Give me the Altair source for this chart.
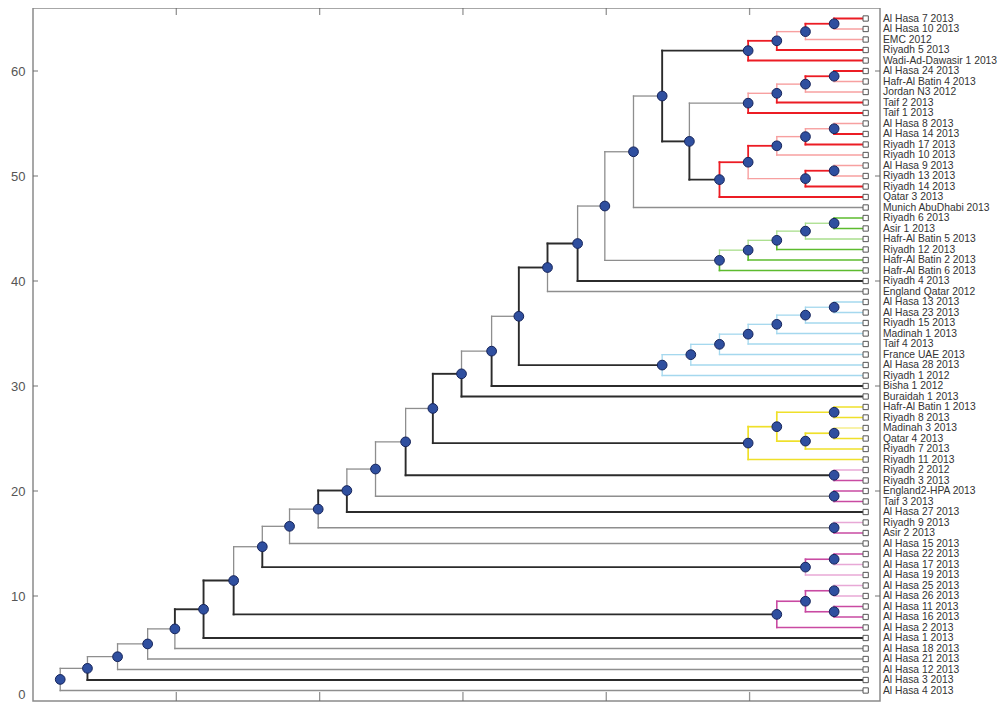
import altair as alt
import pandas as pd

# ---------------- data ----------------
leaf_names = [
    "Al Hasa 7 2013", "Al Hasa 10 2013", "EMC 2012", "Riyadh 5 2013",
    "Wadi-Ad-Dawasir 1 2013", "Al Hasa 24 2013", "Hafr-Al Batin 4 2013",
    "Jordan N3 2012", "Taif 2 2013", "Taif 1 2013", "Al Hasa 8 2013",
    "Al Hasa 14 2013", "Riyadh 17 2013", "Riyadh 10 2013", "Al Hasa 9 2013",
    "Riyadh 13 2013", "Riyadh 14 2013", "Qatar 3 2013", "Munich AbuDhabi 2013",
    "Riyadh 6 2013", "Asir 1 2013", "Hafr-Al Batin 5 2013", "Riyadh 12 2013",
    "Hafr-Al Batin 2 2013", "Hafr-Al Batin 6 2013", "Riyadh 4 2013",
    "England Qatar 2012", "Al Hasa 13 2013", "Al Hasa 23 2013", "Riyadh 15 2013",
    "Madinah 1 2013", "Taif 4 2013", "France UAE 2013", "Al Hasa 28 2013",
    "Riyadh 1 2012", "Bisha 1 2012", "Buraidah 1 2013", "Hafr-Al Batin 1 2013",
    "Riyadh 8 2013", "Madinah 3 2013", "Qatar 4 2013", "Riyadh 7 2013",
    "Riyadh 11 2013", "Riyadh 2 2012", "Riyadh 3 2013", "England2-HPA 2013",
    "Taif 3 2013", "Al Hasa 27 2013", "Riyadh 9 2013", "Asir 2 2013",
    "Al Hasa 15 2013", "Al Hasa 22 2013", "Al Hasa 17 2013", "Al Hasa 19 2013",
    "Al Hasa 25 2013", "Al Hasa 26 2013", "Al Hasa 11 2013", "Al Hasa 16 2013",
    "Al Hasa 2 2013", "Al Hasa 1 2013", "Al Hasa 18 2013", "Al Hasa 21 2013",
    "Al Hasa 12 2013", "Al Hasa 3 2013", "Al Hasa 4 2013",
]
leaf_x = 5.81

# internal nodes: name, x (distance), children, style of each child branch
node_names = [
    "N1", "N2", "N3", "N4", "N5", "N6", "N7", "N8", "N9", "N10", "N11", "N12",
    "N13", "N14", "N15", "N16", "N17", "N18", "N19", "N20", "N21", "N22", "N23",
    "M1", "M2", "M3", "M4", "P1", "P2", "Q", "R", "S",
    "Y1", "Y2", "Y3", "Y4", "Y5",
    "C1", "C2", "C3", "C4", "C5", "C6", "C7",
    "G1", "G2", "G3", "G4", "G5",
    "A1", "A2", "A3", "A4", "B1", "B2", "B3", "B4",
    "D1", "D2", "E2", "E3", "E4", "F1", "F2",
]
node_x = [
    0.19, 0.38, 0.59, 0.80, 0.99, 1.19, 1.40, 1.60, 1.79, 1.99, 2.19, 2.39,
    2.60, 2.79, 2.99, 3.20, 3.39, 3.59, 3.80, 3.99, 4.19, 4.39, 4.58,
    5.19, 5.39, 5.59, 5.59, 5.39, 5.59, 5.59, 5.59, 5.59,
    4.99, 5.19, 5.59, 5.39, 5.59,
    4.39, 4.59, 4.79, 4.99, 5.19, 5.39, 5.59,
    4.79, 4.99, 5.19, 5.39, 5.59,
    4.99, 5.19, 5.39, 5.59, 4.99, 5.19, 5.39, 5.59,
    4.79, 4.99, 5.19, 5.39, 5.59, 5.39, 5.59,
]
node_children = [
    ("Al Hasa 4 2013", "N2"), ("Al Hasa 3 2013", "N3"), ("Al Hasa 12 2013", "N4"),
    ("Al Hasa 21 2013", "N5"), ("Al Hasa 18 2013", "N6"), ("Al Hasa 1 2013", "N7"),
    ("M1", "N8"), ("P1", "N9"), ("Al Hasa 15 2013", "N10"), ("Q", "N11"),
    ("Al Hasa 27 2013", "N12"), ("R", "N13"), ("S", "N14"), ("Y1", "N15"),
    ("Buraidah 1 2013", "N16"), ("Bisha 1 2012", "N17"), ("C1", "N18"),
    ("England Qatar 2012", "N19"), ("Riyadh 4 2013", "N20"), ("G1", "N21"),
    ("Munich AbuDhabi 2013", "N22"), ("A1", "N23"), ("B1", "D1"),
    ("Al Hasa 2 2013", "M2"), ("M3", "M4"), ("Al Hasa 25 2013", "Al Hasa 26 2013"),
    ("Al Hasa 11 2013", "Al Hasa 16 2013"), ("Al Hasa 19 2013", "P2"),
    ("Al Hasa 17 2013", "Al Hasa 22 2013"), ("Asir 2 2013", "Riyadh 9 2013"),
    ("Taif 3 2013", "England2-HPA 2013"), ("Riyadh 3 2013", "Riyadh 2 2012"),
    ("Riyadh 11 2013", "Y2"), ("Y4", "Y3"), ("Riyadh 8 2013", "Hafr-Al Batin 1 2013"),
    ("Riyadh 7 2013", "Y5"), ("Qatar 4 2013", "Madinah 3 2013"),
    ("Riyadh 1 2012", "C2"), ("Al Hasa 28 2013", "C3"), ("France UAE 2013", "C4"),
    ("Taif 4 2013", "C5"), ("Madinah 1 2013", "C6"), ("Riyadh 15 2013", "C7"),
    ("Al Hasa 23 2013", "Al Hasa 13 2013"),
    ("Hafr-Al Batin 6 2013", "G2"), ("Hafr-Al Batin 2 2013", "G3"),
    ("Riyadh 12 2013", "G4"), ("Hafr-Al Batin 5 2013", "G5"),
    ("Asir 1 2013", "Riyadh 6 2013"),
    ("Wadi-Ad-Dawasir 1 2013", "A2"), ("Riyadh 5 2013", "A3"), ("EMC 2012", "A4"),
    ("Al Hasa 10 2013", "Al Hasa 7 2013"), ("Taif 1 2013", "B2"), ("Taif 2 2013", "B3"),
    ("Jordan N3 2012", "B4"), ("Hafr-Al Batin 4 2013", "Al Hasa 24 2013"),
    ("Qatar 3 2013", "D2"), ("F1", "E2"), ("Riyadh 10 2013", "E3"),
    ("Riyadh 17 2013", "E4"), ("Al Hasa 14 2013", "Al Hasa 8 2013"),
    ("Riyadh 14 2013", "F2"), ("Riyadh 13 2013", "Al Hasa 9 2013"),
]
branch_styles = [
    ("g", "g"), ("d", "g"), ("g", "g"), ("g", "g"), ("g", "d"), ("d", "d"),
    ("d", "g"), ("d", "g"), ("g", "g"), ("g", "d"), ("d", "g"), ("g", "g"),
    ("d", "g"), ("d", "d"), ("d", "g"), ("d", "g"), ("d", "d"), ("g", "d"),
    ("d", "g"), ("g", "g"), ("g", "g"), ("d", "d"), ("g", "d"),
    ("m", "m"), ("m", "m"), ("lm", "lm"), ("m", "m"), ("lm", "m"), ("lm", "m"),
    ("m", "lm"), ("m", "m"), ("m", "lm"),
    ("y", "y"), ("y", "y"), ("y", "y"), ("y", "y"), ("y", "ly"),
    ("c", "c"), ("c", "c"), ("c", "c"), ("c", "c"), ("c", "c"), ("c", "c"), ("c", "c"),
    ("gr", "lgr"), ("gr", "lgr"), ("gr", "lgr"), ("lgr", "lgr"), ("gr", "gr"),
    ("r", "r"), ("r", "lr"), ("lr", "r"), ("lr", "r"), ("r", "lr"), ("r", "lr"),
    ("lr", "r"), ("lr", "r"),
    ("r", "r"), ("lr", "r"), ("lr", "lr"), ("r", "lr"), ("r", "lr"),
    ("r", "r"), ("lr", "lr"),
]
style_table = {
    "d": ("#2b2b2b", 1.9), "g": ("#8e8e8e", 1.3),
    "r": ("#ec1c24", 1.8), "lr": ("#f7a0a0", 1.4),
    "gr": ("#5dbb2e", 1.6), "lgr": ("#a9de8c", 1.3),
    "c": ("#a5d8ee", 1.3),
    "y": ("#efe02a", 1.7), "ly": ("#f6ee8c", 1.4),
    "m": ("#c94aa2", 1.6), "lm": ("#e8a8d6", 1.4),
}
y_ticks = [0, 10, 20, 30, 40, 50, 60]
x_ticks = [1, 2, 3, 4, 5]

# ---------------- layout ----------------
n_leaf = len(leaf_names)
leaf_y = {n: n_leaf - i for i, n in enumerate(leaf_names)}
nx = dict(zip(node_names, node_x))
kids = dict(zip(node_names, node_children))


def ypos(n):
    if n in leaf_y:
        return leaf_y[n]
    a, b = kids[n]
    return (ypos(a) + ypos(b)) / 2


def xpos(n):
    return leaf_x if n in leaf_y else nx[n]


segs = []
for n, sts in zip(node_names, branch_styles):
    px, py = nx[n], ypos(n)
    for c, s in zip(kids[n], sts):
        cx, cy = xpos(c), ypos(c)
        col, w = style_table[s]
        rank = 0 if s in ("g", "c", "lr", "lgr", "lm", "ly") else 1
        segs.append(dict(x=px, y=py, x2=px, y2=cy, color=col, w=w, rank=rank))
        segs.append(dict(x=px, y=cy, x2=cx, y2=cy, color=col, w=w, rank=rank))
seg_df = pd.DataFrame(segs).sort_values("rank", kind="stable")

node_df = pd.DataFrame({"x": node_x, "y": [ypos(n) for n in node_names]})
leaf_df = pd.DataFrame({"name": leaf_names, "x": leaf_x,
                        "y": [leaf_y[n] for n in leaf_names]})
ytick_df = pd.DataFrame({"v": y_ticks[1:]})
xtick_df = pd.DataFrame({"v": x_ticks})

W, H = 847, 693
xs = alt.Scale(domain=[0, 5.91], nice=False, zero=False)
ys = alt.Scale(domain=[0, 66], nice=False, zero=False)

lines = alt.Chart(seg_df).mark_rule(strokeCap="square").encode(
    x=alt.X("x:Q", scale=xs, axis=None),
    x2="x2:Q",
    y=alt.Y("y:Q", scale=ys,
            axis=alt.Axis(values=y_ticks, title=None, ticks=False, domain=False,
                          grid=False, labelFontSize=13, labelColor="#555",
                          labelFont="Liberation Sans", labelPadding=8,
                          labelFlush=True)),
    y2="y2:Q",
    color=alt.Color("color:N", scale=None),
    strokeWidth=alt.StrokeWidth("w:Q", scale=None),
)

nodes = alt.Chart(node_df).mark_point(
    shape="circle", filled=True, size=95, fill="#2f4f9f", stroke="#16245a",
    strokeWidth=1, opacity=1
).encode(x=alt.X("x:Q", scale=xs), y=alt.Y("y:Q", scale=ys))

leaves = alt.Chart(leaf_df).mark_square(
    size=28, fill="white", stroke="#555", strokeWidth=1, opacity=1
).encode(x=alt.X("x:Q", scale=xs), y=alt.Y("y:Q", scale=ys))

labels = alt.Chart(leaf_df).mark_text(
    align="left", baseline="middle", dx=3, fontSize=10.3,
    font="Liberation Sans", color="#333"
).encode(x=alt.value(W), y=alt.Y("y:Q", scale=ys), text="name:N")

tick_style = dict(color="#666", thickness=1.3, clip=True)
yt_left = alt.Chart(ytick_df).mark_tick(orient="horizontal", size=10, **tick_style).encode(
    x=alt.value(0), y=alt.Y("v:Q", scale=ys))
yt_right = alt.Chart(ytick_df).mark_tick(orient="horizontal", size=10, **tick_style).encode(
    x=alt.value(W), y=alt.Y("v:Q", scale=ys))
xt_top = alt.Chart(xtick_df).mark_tick(orient="vertical", size=14, **tick_style).encode(
    y=alt.value(0), x=alt.X("v:Q", scale=xs))
xt_bot = alt.Chart(xtick_df).mark_tick(orient="vertical", size=18, **tick_style).encode(
    y=alt.value(H), x=alt.X("v:Q", scale=xs))

chart = alt.layer(
    lines, yt_left, yt_right, xt_top, xt_bot, nodes, leaves, labels
).properties(
    width=W, height=H,
    autosize=alt.AutoSizeParams(type="none"),
    padding={"left": 25, "top": 0, "right": 119, "bottom": 3},
).configure_view(stroke="#8a8a8a", strokeWidth=1.5)

chart.save("out.html", embed_options={"renderer": "svg", "actions": False})
